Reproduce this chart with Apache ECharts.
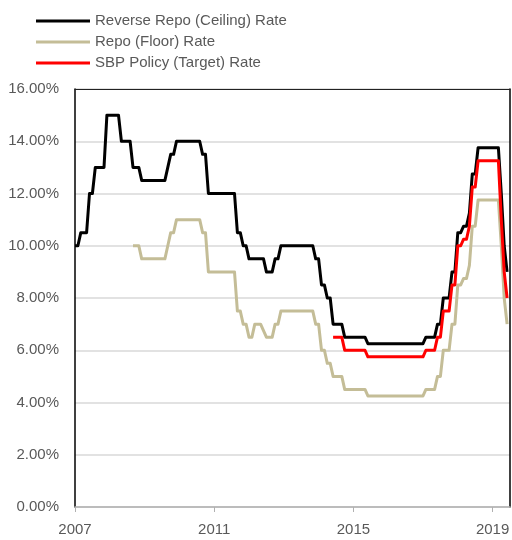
<!DOCTYPE html>
<html>
<head>
<meta charset="utf-8">
<script src="https://cdn.jsdelivr.net/npm/echarts@6/dist/echarts.min.js"></script>
<style>
html,body{margin:0;padding:0;background:#fff;}
#chart{width:512px;height:540px;}
</style>
</head>
<body>
<div id="chart"></div>
<script>
// Monthly observations (index 0 = first month on the axis, labelled "2007")
var seriesNames = ['Reverse Repo (Ceiling) Rate', 'Repo (Floor) Rate', 'SBP Policy (Target) Rate'];
var xTickLabels = ['2007', '2011', '2015', '2019'];
var ceilingRate = [
  10, 10,
  10.5, 10.5, 10.5,
  12, 12,
  13, 13, 13, 13,
  15, 15, 15, 15, 15,
  14, 14, 14, 14,
  13, 13, 13,
  12.5, 12.5, 12.5, 12.5, 12.5, 12.5, 12.5, 12.5, 12.5,
  13,
  13.5, 13.5,
  14, 14, 14, 14, 14, 14, 14, 14, 14,
  13.5, 13.5,
  12, 12, 12, 12, 12, 12, 12, 12, 12, 12,
  10.5, 10.5,
  10, 10,
  9.5, 9.5, 9.5, 9.5, 9.5, 9.5,
  9, 9, 9,
  9.5, 9.5,
  10, 10, 10, 10, 10, 10, 10, 10, 10, 10, 10, 10,
  9.5, 9.5,
  8.5, 8.5,
  8, 8,
  7, 7, 7, 7,
  6.5, 6.5, 6.5, 6.5, 6.5, 6.5, 6.5, 6.5,
  6.25, 6.25, 6.25, 6.25, 6.25, 6.25, 6.25, 6.25, 6.25, 6.25,
  6.25, 6.25, 6.25, 6.25, 6.25, 6.25, 6.25, 6.25, 6.25, 6.25,
  6.5, 6.5, 6.5, 6.5,
  7, 7,
  8, 8, 8,
  9, 9,
  10.5, 10.5,
  10.75, 10.75,
  11.25,
  12.75, 12.75,
  13.75, 13.75, 13.75, 13.75, 13.75, 13.75, 13.75, 13.75,
  12,
  10,
  9
];
var floorRate = [
  null, null, null, null, null, null, null, null, null, null,
  null, null, null, null, null, null, null, null, null, null,
  10, 10, 10,
  9.5, 9.5, 9.5, 9.5, 9.5, 9.5, 9.5, 9.5, 9.5,
  10,
  10.5, 10.5,
  11, 11, 11, 11, 11, 11, 11, 11, 11,
  10.5, 10.5,
  9, 9, 9, 9, 9, 9, 9, 9, 9, 9,
  7.5, 7.5,
  7, 7,
  6.5, 6.5,
  7, 7, 7,
  6.75,
  6.5, 6.5, 6.5,
  7, 7,
  7.5, 7.5, 7.5, 7.5, 7.5, 7.5, 7.5, 7.5, 7.5, 7.5, 7.5, 7.5,
  7, 7,
  6, 6,
  5.5, 5.5,
  5, 5, 5, 5,
  4.5, 4.5, 4.5, 4.5, 4.5, 4.5, 4.5, 4.5,
  4.25, 4.25, 4.25, 4.25, 4.25, 4.25, 4.25, 4.25, 4.25, 4.25,
  4.25, 4.25, 4.25, 4.25, 4.25, 4.25, 4.25, 4.25, 4.25, 4.25,
  4.5, 4.5, 4.5, 4.5,
  5, 5,
  6, 6, 6,
  7, 7,
  8.5, 8.5,
  8.75, 8.75,
  9.25,
  10.75, 10.75,
  11.75, 11.75, 11.75, 11.75, 11.75, 11.75, 11.75, 11.75,
  10,
  8,
  7
];
var targetRate = [
  null, null, null, null, null, null, null, null, null, null,
  null, null, null, null, null, null, null, null, null, null,
  null, null, null, null, null, null, null, null, null, null,
  null, null, null, null, null, null, null, null, null, null,
  null, null, null, null, null, null, null, null, null, null,
  null, null, null, null, null, null, null, null, null, null,
  null, null, null, null, null, null, null, null, null, null,
  null, null, null, null, null, null, null, null, null, null,
  null, null, null, null, null, null, null, null, null,
  6.5, 6.5, 6.5, 6.5,
  6, 6, 6, 6, 6, 6, 6, 6,
  5.75, 5.75, 5.75, 5.75, 5.75, 5.75, 5.75, 5.75, 5.75, 5.75,
  5.75, 5.75, 5.75, 5.75, 5.75, 5.75, 5.75, 5.75, 5.75, 5.75,
  6, 6, 6, 6,
  6.5, 6.5,
  7.5, 7.5, 7.5,
  8.5, 8.5,
  10, 10,
  10.25, 10.25,
  10.75,
  12.25, 12.25,
  13.25, 13.25, 13.25, 13.25, 13.25, 13.25, 13.25, 13.25,
  11,
  9,
  8
];

function toPairs(arr) {
  return arr.map(function (v, i) { return [i, v]; });
}

var FONT = '"Liberation Sans", Arial, sans-serif';
var chart = echarts.init(document.getElementById('chart'), null, { renderer: 'canvas' });
chart.setOption({
  animation: false,
  backgroundColor: '#ffffff',
  legend: {
    orient: 'vertical',
    left: 31,
    top: 6,
    itemWidth: 54,
    itemHeight: 3,
    itemGap: 1,
    icon: 'rect',
    data: seriesNames,
    textStyle: { fontFamily: FONT, fontSize: 15, color: '#595959', lineHeight: 20 }
  },
  grid: { left: 75, right: 2, top: 89, bottom: 33, containLabel: false, outerBoundsMode: 'none' },
  xAxis: [{
    type: 'value',
    min: 0,
    max: 150,
    interval: 48,
    axisLine: { show: true, lineStyle: { color: '#b0b0b0', width: 1.5 } },
    axisTick: { show: true, length: 5, lineStyle: { color: '#b0b0b0' }, customValues: [0, 48, 96, 144] },
    axisLabel: {
      customValues: [0, 48, 96, 144],
      formatter: function (v) { return xTickLabels[Math.round(v / 48)] || ''; },
      fontFamily: FONT, fontSize: 15, color: '#595959', margin: 15
    },
    splitLine: { show: false }
  }, {
    type: 'value',
    position: 'top',
    min: 0,
    max: 150,
    axisLine: { show: true, onZero: false, lineStyle: { color: '#222', width: 1 } },
    axisTick: { show: false },
    axisLabel: { show: false },
    splitLine: { show: false }
  }],
  yAxis: [{
    type: 'value',
    min: 0,
    max: 16,
    interval: 2,
    axisLine: { show: true, lineStyle: { color: '#000', width: 1.5 } },
    axisTick: { show: false },
    axisLabel: {
      formatter: function (v) { return v.toFixed(2) + '%'; },
      fontFamily: FONT, fontSize: 15, color: '#595959', margin: 16
    },
    splitLine: { show: true, lineStyle: { color: '#d9d9d9', width: 1.5 } }
  }, {
    type: 'value',
    position: 'right',
    min: 0,
    max: 16,
    axisLine: { show: true, onZero: false, lineStyle: { color: '#000', width: 1.5 } },
    axisTick: { show: false },
    axisLabel: { show: false },
    splitLine: { show: false }
  }],
  series: [{
    name: seriesNames[0],
    type: 'line',
    data: toPairs(ceilingRate),
    showSymbol: false,
    itemStyle: { color: '#000000' },
    lineStyle: { color: '#000000', width: 3, join: 'round' },
    z: 3
  }, {
    name: seriesNames[1],
    type: 'line',
    data: toPairs(floorRate),
    showSymbol: false,
    itemStyle: { color: '#C4BD97' },
    lineStyle: { color: '#C4BD97', width: 3, join: 'round' },
    z: 3
  }, {
    name: seriesNames[2],
    type: 'line',
    data: toPairs(targetRate),
    showSymbol: false,
    itemStyle: { color: '#FF0000' },
    lineStyle: { color: '#FF0000', width: 3, join: 'round' },
    z: 4
  }]
});
</script>
</body>
</html>
